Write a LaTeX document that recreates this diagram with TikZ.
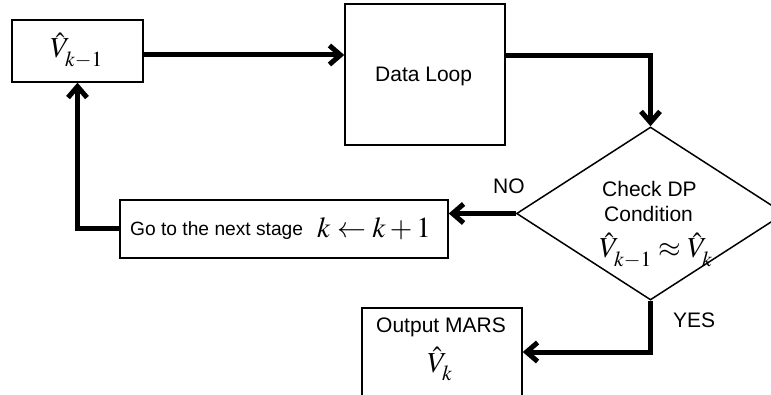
\documentclass[tikz,border=0pt]{standalone}
\usepackage{mathptmx}
\usepackage[no-math]{fontspec}
\setmainfont{Liberation Sans}
\usetikzlibrary{arrows.meta,shapes.geometric}
\newcommand{\lowsub}[1]{_{\raisebox{-4pt}{$\scriptstyle #1$}}}
\begin{document}
\begin{tikzpicture}[x=1pt,y=-1pt,
  box/.style={draw, line width=1.5pt, inner sep=0pt},
  flow/.style={line width=5pt, -{Straight Barb[length=11pt,width=19pt]}},
  txt/.style={inner sep=0pt, anchor=base west, font=\fontsize{21}{24}\selectfont},
  mth/.style={inner sep=0pt, anchor=base west, font=\fontsize{29}{31}\selectfont}]
\useasboundingbox (0,0) rectangle (771,395);
% boxes
\node[box, minimum width=131pt, minimum height=62pt] (vbox) at (77.5,51) {};
\node[box, minimum width=160pt, minimum height=141pt] (data) at (425,74.5) {};
\node[box, minimum width=328pt, minimum height=58pt] (go) at (284,229) {};
\node[box, minimum width=160pt, minimum height=112pt] (out) at (442,364) {};
\node[draw, line width=1.5pt, diamond, inner sep=0pt, minimum width=268pt, minimum height=173pt] (diam) at (650.5,213.5) {};
% texts
\node[mth] (vt) at (50,58) {$\hat{V}\lowsub{k-1}$};
\node[txt] (dl) at (375,82) {Data Loop};
\node[txt] (c1) at (602,197) {Check DP};
\node[txt] (c2) at (604,222) {Condition};
\node[mth] (cm) at (599,258) {$\hat{V}\lowsub{k-1}\approx\hat{V}\lowsub{k}$};
\node[txt, font=\fontsize{19.2}{22}\selectfont] (gt) at (130,236) {Go to the next stage};
\node[mth] (gm) at (317,238) {$k\leftarrow k+1$};
\node[txt, anchor=base] (om) at (441,332) {Output MARS};
\node[mth] (ov) at (427,372) {$\hat{V}\lowsub{k}$};
\node[txt] (no) at (493,194) {NO};
\node[txt] (yes) at (673,327) {YES};
% connectors
\coordinate (y1) at (0,55);
\coordinate (y2) at (0,56);
\coordinate (y3) at (0,352);
\draw[flow] (vbox.east |- y1) -- (data.west |- y1);
\draw[flow] (data.east |- y2) -| (diam.north);
\draw[flow] (diam.west) -- (diam.west -| go.east);
\draw[flow] (go.west) -| (vbox.south);
\draw[flow] (diam.south) |- (out.east |- y3);
\end{tikzpicture}
\end{document}
